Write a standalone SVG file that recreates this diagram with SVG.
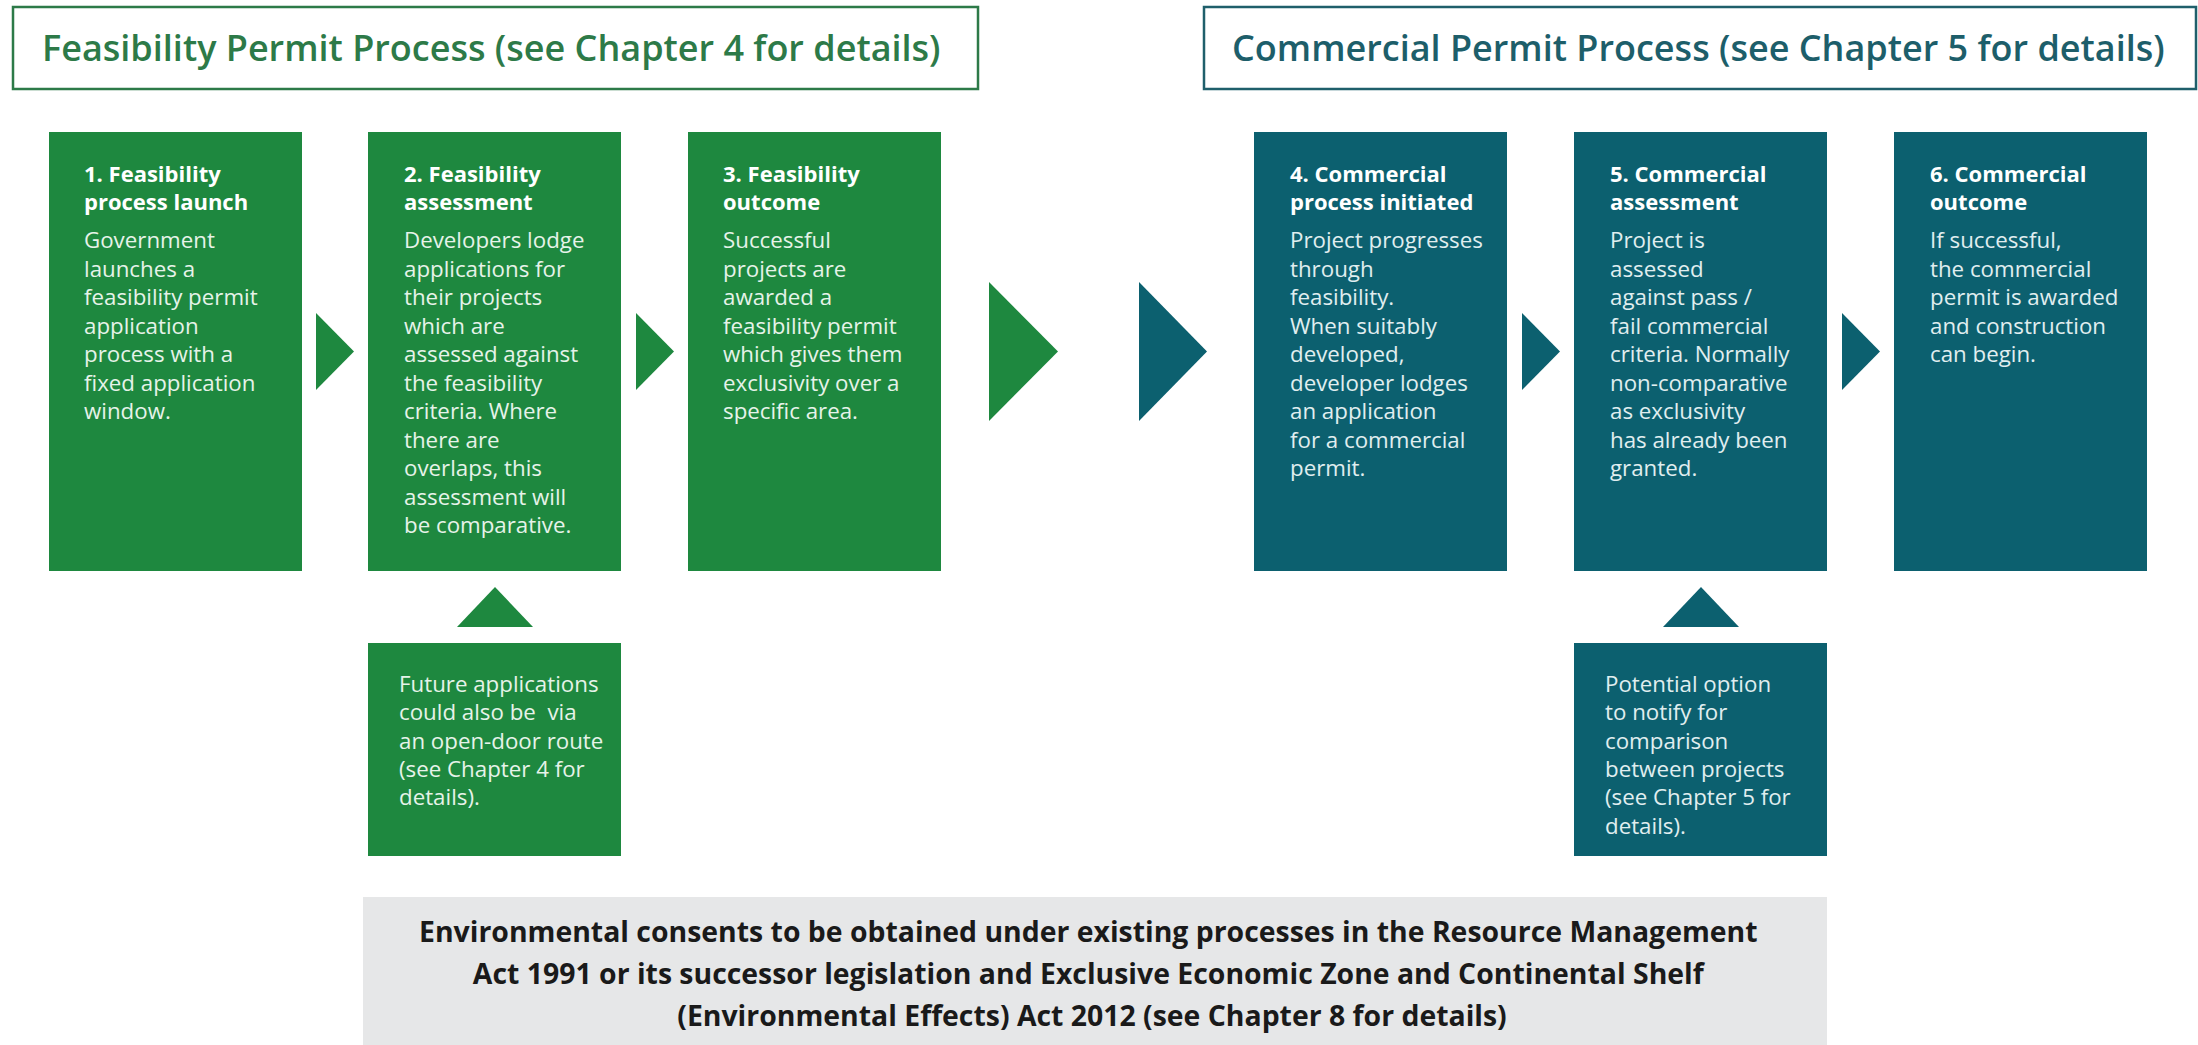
<svg xmlns="http://www.w3.org/2000/svg" width="2198" height="1045" viewBox="0 0 2198 1045">
  <style>
    .bg{fill:#ffffff}
    .frame-g{fill:#ffffff;stroke:#2d7a48;stroke-width:2.5}
    .frame-t{fill:#ffffff;stroke:#1f5f6b;stroke-width:2.5}
    .title{font-family:"Open Sans","Liberation Sans",sans-serif;font-weight:600;font-size:36px}
    .title-g{fill:#2d7a48}
    .title-t{fill:#1d5e6a}
    .green{fill:#1e883f}
    .teal{fill:#0c606f}
    .hd{font-family:"Open Sans","Liberation Sans",sans-serif;font-weight:700;font-size:22px;fill:#ffffff}
    .bd{font-family:"Open Sans","Liberation Sans",sans-serif;font-weight:400;font-size:22.3px}
    .bd-g{fill:#e6f3e9}
    .bd-t{fill:#e0eef0}
    .note{fill:#e6e7e8}
    .note-text{font-family:"Open Sans","Liberation Sans",sans-serif;font-weight:700;font-size:28.4px;fill:#1a1a1a}
  </style>

  <rect class="bg" x="0" y="0" width="2198" height="1045"/>

  <!-- Section headers -->
  <g id="header-feasibility">
    <rect class="frame-g" x="13" y="7" width="965" height="82"/>
    <text class="title title-g" x="42" y="61">Feasibility Permit Process (see Chapter 4 for details)</text>
  </g>
  <g id="header-commercial">
    <rect class="frame-t" x="1204" y="7" width="992" height="82"/>
    <text class="title title-t" x="1232" y="61">Commercial Permit Process (see Chapter 5 for details)</text>
  </g>

  <!-- Step 1 -->
  <g id="step1">
    <rect class="green" x="49" y="132" width="253" height="439"/>
    <text class="hd"><tspan x="84" y="182">1. Feasibility</tspan><tspan x="84" y="210">process launch</tspan></text>
    <text class="bd bd-g">
      <tspan x="84" y="248">Government</tspan>
      <tspan x="84" y="276.5">launches a</tspan>
      <tspan x="84" y="305">feasibility permit</tspan>
      <tspan x="84" y="333.5">application</tspan>
      <tspan x="84" y="362">process with a</tspan>
      <tspan x="84" y="390.5">fixed application</tspan>
      <tspan x="84" y="419">window.</tspan>
    </text>
  </g>

  <!-- Step 2 -->
  <g id="step2">
    <rect class="green" x="368" y="132" width="253" height="439"/>
    <text class="hd"><tspan x="404" y="182">2. Feasibility</tspan><tspan x="404" y="210">assessment</tspan></text>
    <text class="bd bd-g">
      <tspan x="404" y="248">Developers lodge</tspan>
      <tspan x="404" y="276.5">applications for</tspan>
      <tspan x="404" y="305">their projects</tspan>
      <tspan x="404" y="333.5">which are</tspan>
      <tspan x="404" y="362">assessed against</tspan>
      <tspan x="404" y="390.5">the feasibility</tspan>
      <tspan x="404" y="419">criteria. Where</tspan>
      <tspan x="404" y="447.5">there are</tspan>
      <tspan x="404" y="476">overlaps, this</tspan>
      <tspan x="404" y="504.5">assessment will</tspan>
      <tspan x="404" y="533">be comparative.</tspan>
    </text>
  </g>

  <!-- Step 3 -->
  <g id="step3">
    <rect class="green" x="688" y="132" width="253" height="439"/>
    <text class="hd"><tspan x="723" y="182">3. Feasibility</tspan><tspan x="723" y="210">outcome</tspan></text>
    <text class="bd bd-g">
      <tspan x="723" y="248">Successful</tspan>
      <tspan x="723" y="276.5">projects are</tspan>
      <tspan x="723" y="305">awarded a</tspan>
      <tspan x="723" y="333.5">feasibility permit</tspan>
      <tspan x="723" y="362">which gives them</tspan>
      <tspan x="723" y="390.5">exclusivity over a</tspan>
      <tspan x="723" y="419">specific area.</tspan>
    </text>
  </g>

  <!-- Step 4 -->
  <g id="step4">
    <rect class="teal" x="1254" y="132" width="253" height="439"/>
    <text class="hd"><tspan x="1290" y="182">4. Commercial</tspan><tspan x="1290" y="210">process initiated</tspan></text>
    <text class="bd bd-t">
      <tspan x="1290" y="248">Project progresses</tspan>
      <tspan x="1290" y="276.5">through</tspan>
      <tspan x="1290" y="305">feasibility.</tspan>
      <tspan x="1290" y="333.5">When suitably</tspan>
      <tspan x="1290" y="362">developed,</tspan>
      <tspan x="1290" y="390.5">developer lodges</tspan>
      <tspan x="1290" y="419">an application</tspan>
      <tspan x="1290" y="447.5">for a commercial</tspan>
      <tspan x="1290" y="476">permit.</tspan>
    </text>
  </g>

  <!-- Step 5 -->
  <g id="step5">
    <rect class="teal" x="1574" y="132" width="253" height="439"/>
    <text class="hd"><tspan x="1610" y="182">5. Commercial</tspan><tspan x="1610" y="210">assessment</tspan></text>
    <text class="bd bd-t">
      <tspan x="1610" y="248">Project is</tspan>
      <tspan x="1610" y="276.5">assessed</tspan>
      <tspan x="1610" y="305">against pass /</tspan>
      <tspan x="1610" y="333.5">fail commercial</tspan>
      <tspan x="1610" y="362">criteria. Normally</tspan>
      <tspan x="1610" y="390.5">non-comparative</tspan>
      <tspan x="1610" y="419">as exclusivity</tspan>
      <tspan x="1610" y="447.5">has already been</tspan>
      <tspan x="1610" y="476">granted.</tspan>
    </text>
  </g>

  <!-- Step 6 -->
  <g id="step6">
    <rect class="teal" x="1894" y="132" width="253" height="439"/>
    <text class="hd"><tspan x="1930" y="182">6. Commercial</tspan><tspan x="1930" y="210">outcome</tspan></text>
    <text class="bd bd-t">
      <tspan x="1930" y="248">If successful,</tspan>
      <tspan x="1930" y="276.5">the commercial</tspan>
      <tspan x="1930" y="305">permit is awarded</tspan>
      <tspan x="1930" y="333.5">and construction</tspan>
      <tspan x="1930" y="362">can begin.</tspan>
    </text>
  </g>

  <!-- Side notes -->
  <g id="note-open-door">
    <rect class="green" x="368" y="643" width="253" height="213"/>
    <text class="bd bd-g">
      <tspan x="399" y="692">Future applications</tspan>
      <tspan x="399" y="720.3">could also be&#160; via</tspan>
      <tspan x="399" y="748.6">an open-door route</tspan>
      <tspan x="399" y="776.9">(see Chapter 4 for</tspan>
      <tspan x="399" y="805.2">details).</tspan>
    </text>
  </g>
  <g id="note-comparison">
    <rect class="teal" x="1574" y="643" width="253" height="213"/>
    <text class="bd bd-t">
      <tspan x="1605" y="692">Potential option</tspan>
      <tspan x="1605" y="720.3">to notify for</tspan>
      <tspan x="1605" y="748.6">comparison</tspan>
      <tspan x="1605" y="776.9">between projects</tspan>
      <tspan x="1605" y="805.2">(see Chapter 5 for</tspan>
      <tspan x="1605" y="833.5">details).</tspan>
    </text>
  </g>

  <!-- Environmental consents banner -->
  <g id="environmental-consents">
    <rect class="note" x="363" y="897" width="1464" height="148"/>
    <text class="note-text" text-anchor="middle">
      <tspan x="1092" y="942">Environmental consents to be obtained under existing processes in the Resource Management</tspan>
      <tspan x="1092" y="984">Act 1991 or its successor legislation and Exclusive Economic Zone and Continental Shelf</tspan>
      <tspan x="1092" y="1026">(Environmental Effects) Act 2012 (see Chapter 8 for details)</tspan>
    </text>
  </g>

  <!-- Flow arrows -->
  <g id="connectors">
    <polygon class="green" points="316,313 354,351.5 316,390"/>
    <polygon class="green" points="636,313 674,351.5 636,390"/>
    <polygon class="green" points="989,282 1058,351.5 989,421"/>
    <polygon class="teal" points="1139,282 1207,351.5 1139,421"/>
    <polygon class="teal" points="1522,313 1560,351.5 1522,390"/>
    <polygon class="teal" points="1842,313 1880,351.5 1842,390"/>
    <polygon class="green" points="457,627 495,587 533,627"/>
    <polygon class="teal" points="1663,627 1701,587 1739,627"/>
  </g>
</svg>
